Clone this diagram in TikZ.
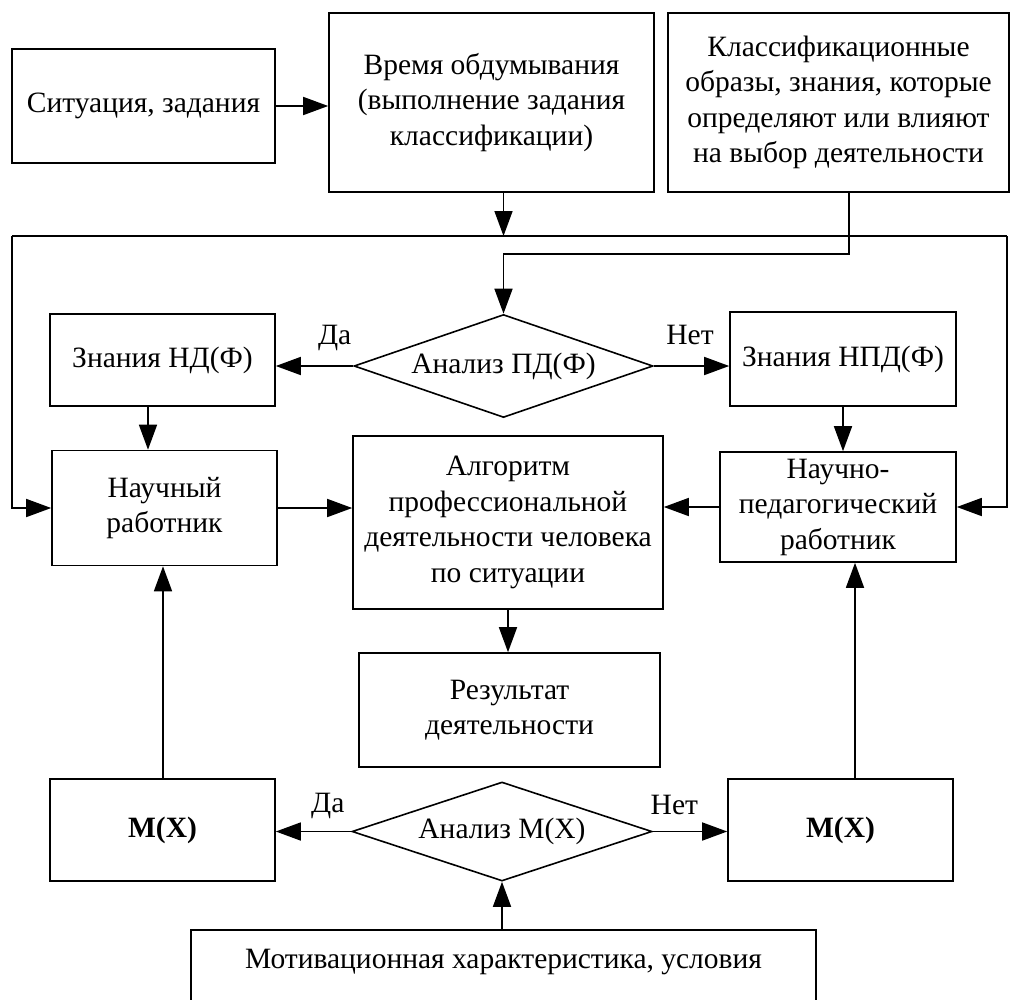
\documentclass[tikz,border=0pt]{standalone}
\usepackage{fontspec}
\setmainfont{Liberation Serif}
\usetikzlibrary{arrows.meta,shapes.geometric}
\begin{document}
\begin{tikzpicture}[x=1pt,y=-1pt,
  txt/.style={font=\fontsize{29.5}{35.5}\selectfont},
  box/.style={draw,line width=1.6pt,inner sep=0pt,align=center,txt},
  dia/.style={diamond,aspect=2.9,draw,line width=1.6pt,inner sep=0pt,align=center,txt},
  lbl/.style={inner sep=0pt,txt},
  conn/.style={line width=1.6pt},
  arr/.style={conn,-{Triangle[length=25pt,width=18pt]}}]
\useasboundingbox (0,0) rectangle (1011,999);
\clip (0,0) rectangle (1011,999);
% boxes
\node[box,minimum width=263pt,minimum height=114pt] (sit) at (143.5,106) {Ситуация, задания};
\node[box,minimum width=325pt,minimum height=179pt] (time) at (491.5,102.5) {Время обдумывания\\(выполнение задания\\классификации)};
\node[box,minimum width=341pt,minimum height=179pt] (klass) at (838.5,102.5) {Классификационные\\образы, знания, которые\\определяют или влияют\\на выбор деятельности};
\node[dia,minimum width=299pt,minimum height=103pt] (pd) at (503.5,366) {Анализ ПД(Ф)};
\node[box,minimum width=225pt,minimum height=92pt] (nd) at (162.5,360) {Знания НД(Ф)};
\node[box,minimum width=226pt,minimum height=94pt] (npd) at (843,359) {Знания НПД(Ф)};
\node[box,minimum width=225pt,minimum height=115pt] (nauch) at (164.5,508) {Научный\\работник};
\node[box,minimum width=310pt,minimum height=173pt] (alg) at (508,522.5) {Алгоритм\\профессиональной\\деятельности человека\\по ситуации};
\node[box,minimum width=236pt,minimum height=110pt] (np) at (838,507) {Научно-\\педагогический\\работник};
\node[box,minimum width=301pt,minimum height=114pt] (res) at (509.5,710) {Результат\\деятельности};
\node[box,minimum width=225pt,minimum height=102pt] (mxl) at (162.5,830) {\textbf{M(X)}};
\node[box,minimum width=225pt,minimum height=102pt] (mxr) at (840.5,830) {\textbf{M(X)}};
\node[dia,minimum width=300pt,minimum height=99pt] (mx) at (502,831.5) {Анализ M(X)};
\node[box,minimum width=625pt,minimum height=120pt,anchor=north] (mot) at (503.5,929) {};
\node[lbl] (mottxt) at (503.5,962) {Мотивационная характеристика, условия};
% helper coordinates
\coordinate (tl) at (12,236);
\coordinate (tr) at (1007,236);
\coordinate (kj) at (849,254);
\coordinate (ndx) at (148,0);
\coordinate (nup) at (163,0);
\coordinate (npup) at (855,0);
% connectors
\draw[arr] (sit.east) -- (sit.east -| time.west);
\draw[conn] (tl) -- (tr);
\draw[arr] (time.south -| pd.north) -- (pd.north |- tl);
\draw[arr] (tl) |- (nauch.west);
\draw[arr] (tr) |- (np.east);
\draw[arr] (klass.south -| kj) -- (kj) -| (pd.north);
\draw[arr] (pd.west) -- node[lbl,pos=0.24,yshift=28pt] {Да} (pd.west -| nd.east);
\draw[arr] (pd.east) -- node[lbl,pos=0.48,yshift=31pt] {Нет} (pd.east -| npd.west);
\draw[arr] (nd.south -| ndx) -- (nauch.north -| ndx);
\draw[arr] (npd.south) -- (np.north -| npd.south);
\draw[arr] (nauch.east) -- (nauch.east -| alg.west);
\draw[arr] (np.west) -- (np.west -| alg.east);
\draw[arr] (alg.south) -- (res.north -| alg.south);
\draw[arr] (mxl.north -| nup) -- (nauch.south -| nup);
\draw[arr] (mxr.north -| npup) -- (np.south -| npup);
\draw[arr] (mx.west) -- node[lbl,pos=0.31,yshift=26pt] {Да} (mx.west -| mxl.east);
\draw[arr] (mx.east) -- node[lbl,pos=0.29,yshift=27pt] {Нет} (mx.east -| mxr.west);
\draw[arr] (mot.north -| mx.south) -- (mx.south);
\end{tikzpicture}
\end{document}
